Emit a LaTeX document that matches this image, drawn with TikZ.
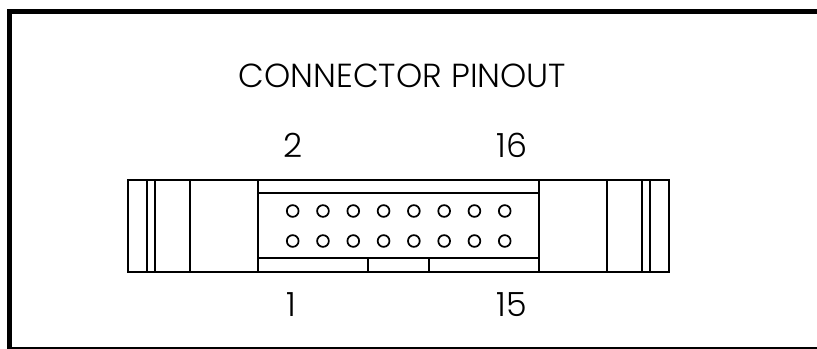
\documentclass[tikz,border=0pt]{standalone}
\usepackage{fontspec}
\setmainfont{Poppins Light}
\tikzset{
  px/.style={x=0.75pt,y=-0.75pt},
  part/.style={draw=black,line width=1.3pt,fill=none},
  framebar/.style={draw=black,line width=3.75pt,line cap=butt},
  pin/.style={draw=black,line width=1.3pt},
  lbl/.style={inner sep=0pt,font=\fontsize{25pt}{30pt}\selectfont,anchor=base},
}
\begin{document}
\begin{tikzpicture}[px]
\useasboundingbox (0,0) rectangle (817,349);
\fill[white] (0,0) rectangle (817,349);
% outer frame: left, top, bottom only
\draw[framebar] (817,11.5) -- (9,11.5) -- (9,349);
\draw[draw=black,line width=1.5pt] (9,348) -- (817,348);
% connector body
\draw[part] (127.7,179.7) rectangle (669.3,271.7);
\foreach \x in {147,155,190.3,258,539,607,642,650}
  \draw[part] (\x,179.7) -- (\x,271.7);
\draw[part] (258,193.3) -- (539,193.3);
\draw[part] (258,258.3) -- (539,258.3);
\draw[part] (368.3,258.3) -- (368.3,271.7);
\draw[part] (429,258.3) -- (429,271.7);
% pins
\foreach \i in {0,...,7}
  \foreach \y in {211,241}
    \draw[pin] (292.7+30.29*\i,\y) circle (4.4pt);
% labels
\node[lbl] (title) at (402.5,87.5) {CONNECTOR PINOUT};
\node[lbl] (p2) at (293,157) {2};
\node[lbl] (p16) at (512,157) {16};
\node[lbl] (p1) at (291.5,316.7) {1};
\node[lbl] (p15) at (512,316.7) {15};
\end{tikzpicture}
\end{document}
